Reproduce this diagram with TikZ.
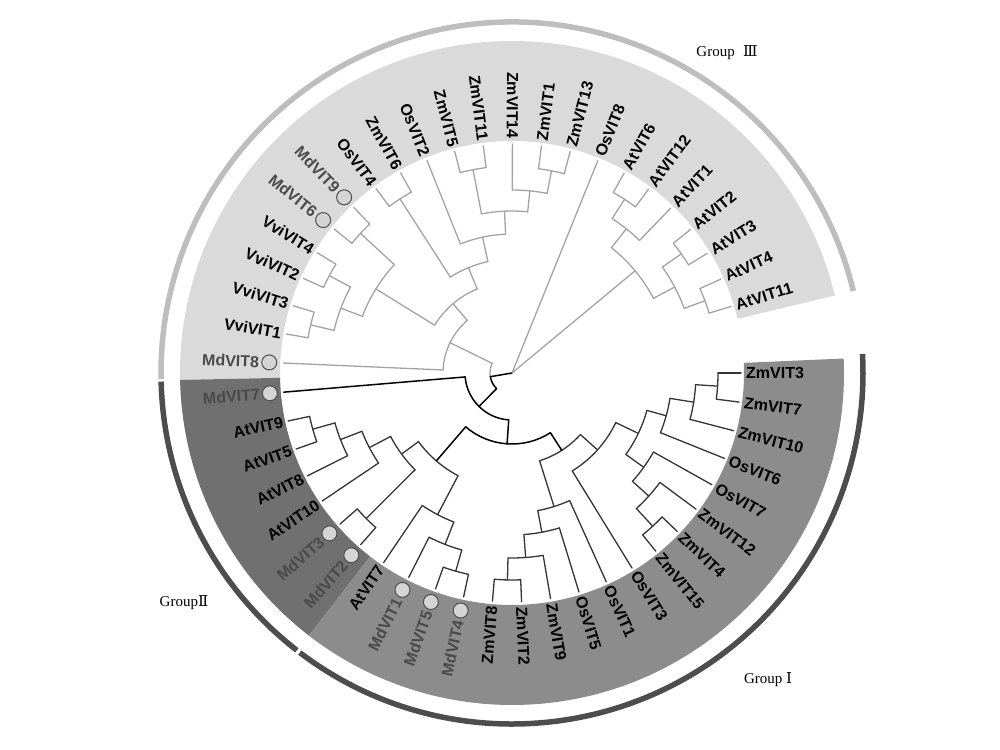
\documentclass[tikz,border=0pt]{standalone}
\usepackage{fontspec}
\setmainfont{Liberation Sans}
\newfontfamily\grpfont{Liberation Serif}
\newfontfamily\romfont{DejaVu Serif}
\definecolor{bandIII}{HTML}{DADADA}
\definecolor{bandII}{HTML}{707070}
\definecolor{bandI}{HTML}{8C8C8C}
\definecolor{ringIII}{HTML}{BEBEBE}
\definecolor{ringI}{HTML}{4D4D4D}
\definecolor{treeIII}{HTML}{A3A3A3}
\definecolor{treeI}{HTML}{353535}
\definecolor{mdgray}{HTML}{4A4A4A}
\definecolor{mdfill}{HTML}{D4D4D4}
\newcommand\leafline[3]{\draw[#1] (#3:#2pt) -- (#3:229pt);}
\newcommand\carc[4]{\draw[#1] (#3:#2pt) arc[start angle=#3, end angle=#4, radius=#2pt];}
\newcommand\cstem[4]{\draw[#1] (#2:#3pt) -- (#2:#4pt);}
\newcommand\labR[3][lab]{\node[#1, anchor=west, rotate=#3] (#2) at (#3:234pt) {#2};}
\newcommand\labL[3][lab]{\node[#1, anchor=east, rotate=#3+180] (#2) at (#3:234pt) {#2};}
\newcommand\mdlabL[2]{\node[mdlab, anchor=east, rotate=#2+180] (#1) at (#2:253pt) {#1};
  \draw[mdc] (#2:243pt) circle[radius=7.5pt];}
\newcommand\bandsec[3]{\fill[#1] (#2:232pt) arc[start angle=#2, end angle=#3, radius=232pt]
  -- (#3:332pt) arc[start angle=#3, end angle=#2, radius=332pt] -- cycle;}
\begin{document}
\begin{tikzpicture}[x=1pt,y=1pt,
  gI/.style={draw=treeI, line width=1.3pt, line cap=round},
  gIII/.style={draw=treeIII, line width=1.3pt, line cap=round},
  bk/.style={draw=black, line width=1.5pt, line cap=round},
  lab/.style={inner sep=0pt, font=\fontsize{16}{18}\selectfont\bfseries, text=black},
  mdlab/.style={lab, text=mdgray},
  mdc/.style={draw=ringI, fill=mdfill, line width=1pt},
  ring/.style={line width=5.5pt},
  grp/.style={inner sep=0pt, font=\fontsize{15}{18}\selectfont\grpfont}]
\useasboundingbox (0,0) rectangle (1000,749);
\begin{scope}[shift={(512,376)}]
% bands
\bandsec{bandIII}{13.5}{181.2}
\bandsec{bandII}{181.2}{232.3}
\bandsec{bandI}{232.3}{362.5}
% outer rings
\draw[ring, ringIII] (13.5:351pt) arc[start angle=13.5, end angle=181, radius=351pt];
\draw[ring, ringI] (181.4:351pt) arc[start angle=181.4, end angle=232.2, radius=351pt];
\draw[ring, ringI] (232.8:351pt) arc[start angle=232.8, end angle=363.1, radius=351pt];
% ---- Group I / II leaves
\leafline{gI}{206}{0}
\leafline{gI}{206}{-7.3}
\leafline{gI}{184}{-14.6}
\leafline{gI}{160}{-21.9}
\leafline{gI}{162}{-29.2}
\leafline{gI}{184}{-36.5}
\leafline{gI}{208}{-43.8}
\leafline{gI}{208}{-51.1}
\leafline{gI}{115}{-58.4}
\leafline{gI}{140}{-65.7}
\leafline{gI}{162}{-73}
\leafline{gI}{185}{-80.3}
\leafline{gI}{207}{-87.6}
\leafline{gI}{207}{-94.9}
\leafline{gI}{206}{-102.2}
\leafline{gI}{206}{-109.5}
\leafline{gI}{184}{-116.8}
\leafline{gI}{160}{-124.1}
\leafline{gI}{206}{-131.4}
\leafline{gI}{206}{-138.7}
\leafline{gI}{161}{-146}
\leafline{gI}{184}{-153.3}
\leafline{gI}{207}{-160.6}
\leafline{gI}{207}{-167.9}
\leafline{bk}{47}{-175.2}
% ---- Group III leaves
\leafline{gIII}{69}{177.5}
\leafline{gIII}{207}{170.2}
\leafline{gIII}{207}{162.9}
\leafline{gIII}{207}{155.6}
\leafline{gIII}{207}{148.3}
\leafline{gIII}{206}{141}
\leafline{gIII}{206}{133.7}
\leafline{gIII}{207}{126.4}
\leafline{gIII}{207}{119.1}
\leafline{gIII}{139}{111.8}
\leafline{gIII}{207}{104.5}
\leafline{gIII}{207}{97.2}
\leafline{gIII}{183}{89.9}
\leafline{gIII}{206}{82.6}
\leafline{gIII}{206}{75.3}
\leafline{gIII}{0}{68}
\leafline{gIII}{207}{60.7}
\leafline{gIII}{207}{53.4}
\leafline{gIII}{184}{46.1}
\leafline{gIII}{207}{38.8}
\leafline{gIII}{207}{31.5}
\leafline{gIII}{206}{24.2}
\leafline{gIII}{206}{16.9}
% ---- Group I clades
\carc{gI}{206}{0}{-7.3}        \cstem{gI}{-3.65}{184}{206}
\carc{gI}{184}{-3.65}{-14.6}   \cstem{gI}{-9.125}{160}{184}
\carc{gI}{160}{-9.125}{-21.9}  \cstem{gI}{-15.51}{140}{160}
\carc{gI}{208}{-43.8}{-51.1}   \cstem{gI}{-47.45}{184}{208}
\carc{gI}{184}{-36.5}{-47.45}  \cstem{gI}{-41.975}{162}{184}
\carc{gI}{162}{-29.2}{-41.975} \cstem{gI}{-35.59}{140}{162}
\carc{gI}{140}{-15.51}{-35.59} \cstem{gI}{-25.55}{115}{140}
\carc{gI}{115}{-25.55}{-58.4}  \cstem{gI}{-41.98}{92}{115}
\carc{gI}{207}{-87.6}{-94.9}   \cstem{gI}{-91.25}{185}{207}
\carc{gI}{185}{-80.3}{-91.25}  \cstem{gI}{-85.775}{162}{185}
\carc{gI}{162}{-73}{-85.775}   \cstem{gI}{-79.39}{140}{162}
\carc{gI}{140}{-65.7}{-79.39}  \cstem{gI}{-72.54}{92}{140}
\carc{gI}{92}{-41.98}{-72.54}  \cstem{bk}{-57.26}{71}{92}
% ---- Group II clade
\carc{gI}{206}{-102.2}{-109.5}  \cstem{gI}{-105.85}{184}{206}
\carc{gI}{184}{-105.85}{-116.8} \cstem{gI}{-111.33}{160}{184}
\carc{gI}{160}{-111.33}{-124.1} \cstem{gI}{-117.71}{116}{160}
\carc{gI}{207}{-160.6}{-167.9}  \cstem{gI}{-164.25}{184}{207}
\carc{gI}{184}{-153.3}{-164.25} \cstem{gI}{-158.78}{161}{184}
\carc{gI}{161}{-146}{-158.78}   \cstem{gI}{-152.39}{137}{161}
\carc{gI}{206}{-131.4}{-138.7}  \cstem{gI}{-135.05}{137}{206}
\carc{gI}{137}{-135.05}{-152.39} \cstem{gI}{-143.72}{116}{137}
\carc{gI}{116}{-117.71}{-143.72} \cstem{bk}{-130.71}{71}{116}
% ---- backbone
\carc{bk}{71}{-57.26}{-130.71}  \cstem{bk}{-93.99}{47}{71}
\carc{bk}{47}{-93.99}{-175.2}   \cstem{bk}{-134.6}{22}{47}
\carc{gIII}{22}{153.95}{189.68}
\carc{bk}{22}{189.68}{225.4}    \cstem{bk}{189.68}{0}{22}
% ---- Group III clades
\carc{gIII}{206}{133.7}{141}     \cstem{gIII}{137.35}{160}{206}
\carc{gIII}{207}{148.3}{155.6}   \cstem{gIII}{151.95}{183}{207}
\carc{gIII}{207}{162.9}{170.2}   \cstem{gIII}{166.55}{183}{207}
\carc{gIII}{183}{151.95}{166.55} \cstem{gIII}{159.25}{160}{183}
\carc{gIII}{160}{137.35}{159.25} \cstem{gIII}{148.3}{91}{160}
\carc{gIII}{207}{119.1}{126.4}   \cstem{gIII}{122.75}{114}{207}
\carc{gIII}{207}{97.2}{104.5}    \cstem{gIII}{100.85}{162}{207}
\carc{gIII}{206}{75.3}{82.6}     \cstem{gIII}{78.95}{183}{206}
\carc{gIII}{183}{78.95}{89.9}    \cstem{gIII}{84.425}{162}{183}
\carc{gIII}{162}{84.425}{100.85} \cstem{gIII}{92.64}{139}{162}
\carc{gIII}{139}{92.64}{111.8}   \cstem{gIII}{102.22}{114}{139}
\carc{gIII}{114}{102.22}{122.75} \cstem{gIII}{112.49}{91}{114}
\carc{gIII}{91}{112.49}{148.3}   \cstem{gIII}{130.39}{69}{91}
\carc{gIII}{69}{130.39}{177.5}   \cstem{gIII}{153.95}{22}{69}
\carc{gIII}{207}{53.4}{60.7}     \cstem{gIII}{57.05}{184}{207}
\carc{gIII}{184}{46.1}{57.05}    \cstem{gIII}{51.575}{160}{184}
\carc{gIII}{207}{31.5}{38.8}     \cstem{gIII}{35.15}{184}{207}
\carc{gIII}{206}{16.9}{24.2}     \cstem{gIII}{20.55}{184}{206}
\carc{gIII}{184}{20.55}{35.15}   \cstem{gIII}{27.85}{160}{184}
\carc{gIII}{160}{27.85}{51.575}  \cstem{gIII}{39.71}{0}{160}
% ---- labels, right side
\labR{ZmVIT3}{0}
\labR{ZmVIT7}{-7.3}
\labR{ZmVIT10}{-14.6}
\labR{OsVIT6}{-21.9}
\labR{OsVIT7}{-29.2}
\labR{ZmVIT12}{-36.5}
\labR{ZmVIT4}{-43.8}
\labR{ZmVIT15}{-51.1}
\labR{OsVIT3}{-58.4}
\labR{OsVIT1}{-65.7}
\labR{OsVIT5}{-73}
\labR{ZmVIT9}{-80.3}
\labR{ZmVIT2}{-87.6}
\labR{ZmVIT1}{82.6}
\labR{ZmVIT13}{75.3}
\labR{OsVIT8}{68}
\labR{AtVIT6}{60.7}
\labR{AtVIT12}{53.4}
\labR{AtVIT1}{46.1}
\labR{AtVIT2}{38.8}
\labR{AtVIT3}{31.5}
\labR{AtVIT4}{24.2}
\labR{AtVIT11}{16.9}
% ---- labels, left side
\labL{ZmVIT8}{-94.9}
\mdlabL{MdVIT4}{-102.2}
\mdlabL{MdVIT5}{-109.5}
\mdlabL{MdVIT1}{-116.8}
\labL{AtVIT7}{-124.1}
\mdlabL{MdVIT2}{-131.4}
\mdlabL{MdVIT3}{-138.7}
\labL{AtVIT10}{-146}
\labL{AtVIT8}{-153.3}
\labL{AtVIT5}{-160.6}
\labL{AtVIT9}{-167.9}
\mdlabL{MdVIT7}{-175.2}
\mdlabL{MdVIT8}{177.5}
\labL{VviVIT1}{170.2}
\labL{VviVIT3}{162.9}
\labL{VviVIT2}{155.6}
\labL{VviVIT4}{148.3}
\mdlabL{MdVIT6}{141}
\mdlabL{MdVIT9}{133.7}
\labL{OsVIT4}{126.4}
\labL{ZmVIT6}{119.1}
\labL{OsVIT2}{111.8}
\labL{ZmVIT5}{104.5}
\labL{ZmVIT11}{97.2}
\labL{ZmVIT14}{89.9}
\end{scope}
% group labels
\node[grp] (g3) at (727,696) {Group\hspace{0.55em}{\romfont Ⅲ}};
\node[grp] (g2) at (184,146) {Group{\romfont Ⅱ}};
\node[grp] (g1) at (768,69) {Group {\romfont Ⅰ}};
\end{tikzpicture}
\end{document}
